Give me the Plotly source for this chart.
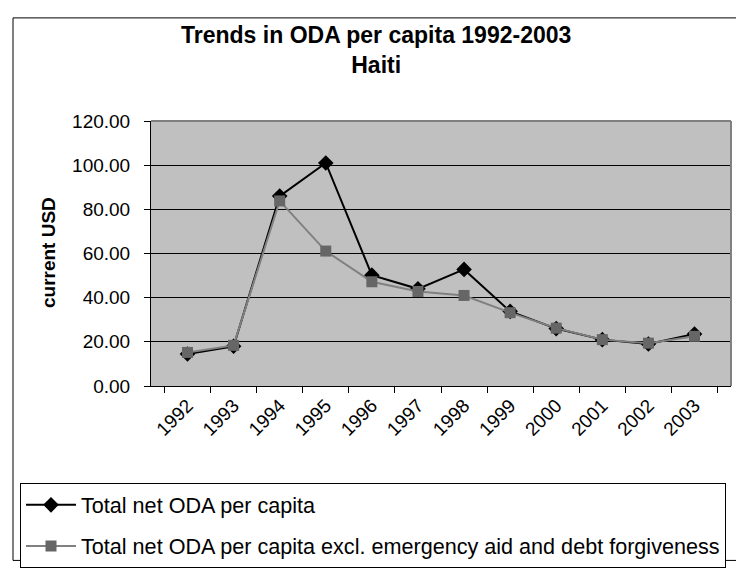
import plotly.graph_objects as go

years = ["1992", "1993", "1994", "1995", "1996", "1997",
         "1998", "1999", "2000", "2001", "2002", "2003"]
oda_total = [14.5, 18.0, 86.0, 101.0, 50.2, 44.0, 52.8, 33.8, 26.0, 21.0, 19.0, 23.5]
oda_excl = [15.2, 18.4, 83.8, 61.1, 47.2, 42.8, 41.0, 33.2, 26.2, 21.0, 19.4, 22.5]

y_ticks = [0, 20, 40, 60, 80, 100, 120]

# plot area in pixels
W, H = 744, 572
L, R, T, B = 143, 723, 113, 388


def px_x(x):
    return (x - L) / (R - L)


def px_y(y):
    return (B - y) / (B - T)


FONT = "Liberation Sans, Arial, sans-serif"

fig = go.Figure()
fig.add_trace(go.Scatter(
    x=years, y=oda_total, mode="lines+markers", name="Total net ODA per capita",
    line=dict(color="black", width=2),
    marker=dict(symbol="diamond", size=12, color="black"),
    legendgroup="a",
))
fig.add_trace(go.Scatter(
    x=years, y=oda_excl, mode="lines+markers",
    name="Total net ODA per capita excl. emergency aid and debt forgiveness",
    line=dict(color="#808080", width=2),
    marker=dict(symbol="square", size=11, color="#666666"),
    legendgroup="b",
))

fig.update_layout(
    width=W, height=H,
    margin=dict(l=L, r=W - R, t=T, b=H - B),
    paper_bgcolor="white",
    plot_bgcolor="#C0C0C0",
    font=dict(family=FONT, color="black", size=19),
    showlegend=True,
    legend=dict(
        x=px_x(12), y=px_y(489), xanchor="left", yanchor="top",
        bgcolor="white", bordercolor="black", borderwidth=1,
        font=dict(size=21.6), tracegroupgap=10, itemwidth=50,
    ),
    annotations=[
        dict(text="<b>Trends in ODA per capita 1992-2003<br>Haiti</b>",
             x=px_x(368), y=px_y(8), xref="paper", yref="paper",
             xanchor="center", yanchor="top", showarrow=False,
             font=dict(size=23)),
        dict(text="<b>current USD</b>", textangle=-90,
             x=px_x(40), y=px_y(250), xref="paper", yref="paper",
             xanchor="center", yanchor="middle", showarrow=False,
             font=dict(size=19)),
    ],
    shapes=[
        # outer chart border
        dict(type="rect", xref="paper", yref="paper",
             x0=px_x(5), x1=px_x(736), y0=px_y(6), y1=px_y(569),
             line=dict(color="black", width=1), layer="below"),
        # gray top/right edge of the plot area
        dict(type="line", xref="paper", yref="paper", x0=0, x1=1, y0=1, y1=1,
             line=dict(color="#808080", width=2)),
        dict(type="line", xref="paper", yref="paper", x0=1, x1=1, y0=0, y1=1,
             line=dict(color="#808080", width=2)),
    ],
)

fig.update_xaxes(
    type="category", tickangle=-45, tickson="boundaries",
    ticks="outside", ticklen=6, tickcolor="black",
    showline=True, linecolor="black", linewidth=1,
    showgrid=False,
)
fig.update_yaxes(
    range=[0, 120], tickvals=y_ticks, tickformat=".2f",
    ticks="outside", ticklen=6, tickcolor="black", ticklabelstandoff=10,
    showline=True, linecolor="black", linewidth=1,
    gridcolor="black", gridwidth=1, zeroline=False,
)

fig.write_html("out.html")
